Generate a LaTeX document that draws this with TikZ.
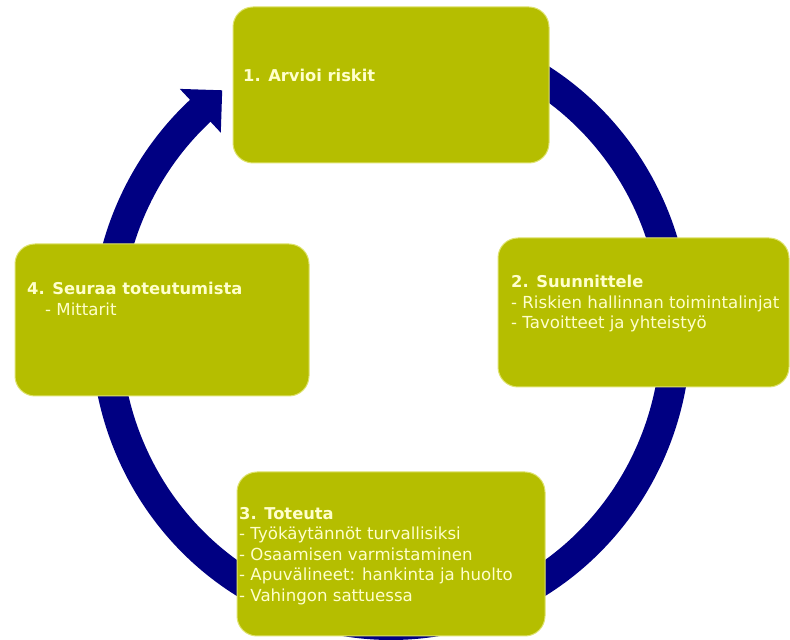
\documentclass[tikz,border=0pt]{standalone}
\usepackage{fontspec}
\setmainfont{DejaVu Sans}
\definecolor{boxfill}{RGB}{181,190,0}
\definecolor{boxedge}{RGB}{222,226,110}
\definecolor{txt}{RGB}{255,255,204}
\definecolor{ringblue}{RGB}{0,0,130}
\newcommand{\steptitle}[1]{{\fontsize{16.3}{20.5}\selectfont\bfseries #1}}
\begin{document}
\begin{tikzpicture}[x=1pt,y=1pt,
  stepbox/.style={fill=boxfill,draw=boxedge,line width=1pt,rounded corners=20pt},
  steptext/.style={anchor=north west,inner sep=0pt,align=left,text=txt,
    font=\fontsize{16.6}{20.5}\selectfont},
  ring/.style={draw=ringblue,line width=30pt}]
\useasboundingbox (0,0) rectangle (790,640);
% ring (clockwise, ending with a head pointing at step 1)
\coordinate (C) at (391,310);
\draw[ring] (391,605) arc[start angle=90,end angle=-229,x radius=285pt,y radius=295pt];
\coordinate (hb1) at (179.8,551.1);
\coordinate (hb2) at (220.8,507.3);
\coordinate (htip) at (222.2,549.7);
\fill[ringblue] (hb1) -- (htip) -- (hb2) -- cycle;
% boxes
\path[stepbox] (233,477) rectangle (549,633) node[pos=0.5] (b1) {};
\path[stepbox] (498,253) rectangle (789,402) node[pos=0.5] (b2) {};
\path[stepbox] (15,244) rectangle (309,396) node[pos=0.5] (b4) {};
\path[stepbox] (237,4) rectangle (545,168) node[pos=0.5] (b3) {};
% texts
\node[steptext] (t1) at (243,571) {\steptitle{1. Arvioi riskit}};
\node[steptext] (t2) at (511,365) {\steptitle{2. Suunnittele}\\- Riskien hallinnan toimintalinjat\\- Tavoitteet ja yhteistyö};
\node[steptext] (t4) at (27,358) {\steptitle{4. Seuraa toteutumista}\\\hspace*{18pt}- Mittarit};
\node[steptext] (t3) at (239,133) {\steptitle{3. Toteuta}\\- Työkäytännöt turvallisiksi\\- Osaamisen varmistaminen\\- Apuvälineet: hankinta ja huolto\\- Vahingon sattuessa};
\end{tikzpicture}
\end{document}
